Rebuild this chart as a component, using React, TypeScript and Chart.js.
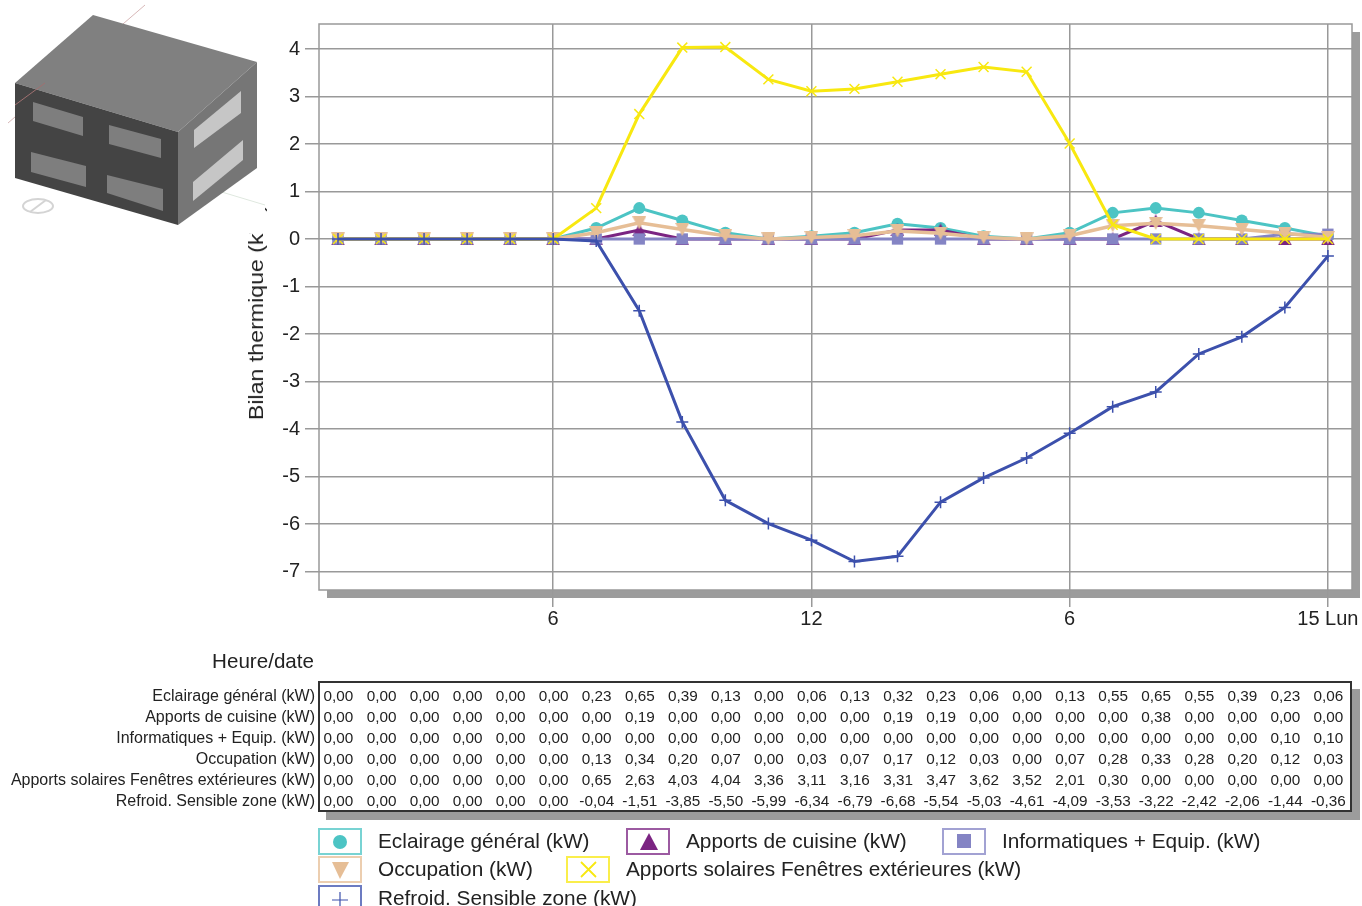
import React, { useEffect, useRef } from "react";
import { Chart, registerables } from "chart.js";

Chart.register(...registerables);

const eclairage = [0, 0, 0, 0, 0, 0, 0.23, 0.65, 0.39, 0.13, 0, 0.06, 0.13, 0.32, 0.23, 0.06, 0, 0.13, 0.55, 0.65, 0.55, 0.39, 0.23, 0.06];
const cuisine = [0, 0, 0, 0, 0, 0, 0, 0.19, 0, 0, 0, 0, 0, 0.19, 0.19, 0, 0, 0, 0, 0.38, 0, 0, 0, 0];
const informatique = [0, 0, 0, 0, 0, 0, 0, 0, 0, 0, 0, 0, 0, 0, 0, 0, 0, 0, 0, 0, 0, 0, 0.1, 0.1];
const occupation = [0, 0, 0, 0, 0, 0, 0.13, 0.34, 0.2, 0.07, 0, 0.03, 0.07, 0.17, 0.12, 0.03, 0, 0.07, 0.28, 0.33, 0.28, 0.2, 0.12, 0.03];
const solaire = [0, 0, 0, 0, 0, 0, 0.65, 2.63, 4.03, 4.04, 3.36, 3.11, 3.16, 3.31, 3.47, 3.62, 3.52, 2.01, 0.3, 0, 0, 0, 0, 0];
const refroid = [0, 0, 0, 0, 0, 0, -0.04, -1.51, -3.85, -5.5, -5.99, -6.34, -6.79, -6.68, -5.54, -5.03, -4.61, -4.09, -3.53, -3.22, -2.42, -2.06, -1.44, -0.36];

const seriesNames = [
  "Eclairage général (kW)",
  "Apports de cuisine (kW)",
  "Informatiques + Equip. (kW)",
  "Occupation (kW)",
  "Apports solaires Fenêtres extérieures (kW)",
  "Refroid. Sensible zone (kW)",
];
const seriesValues = [eclairage, cuisine, informatique, occupation, solaire, refroid];
const seriesColors = ["#4CC4C4", "#7B2482", "#8484C4", "#E6BE96", "#F8E810", "#3C50AC"];
const seriesWidths = [3, 3, 3, 3.5, 3, 3];
const seriesRadius = [6, 6, 8, 7, 7, 6];

const xTickPositions = [5, 11, 17, 23];
const xTickLabels = ["6", "12", "6", "15 Lun"];
const yTicks = [4, 3, 2, 1, 0, -1, -2, -3, -4, -5, -6, -7];
const yTitle = "Bilan thermique (kW)";
const xTitle = "Heure/date";

const FONT = '"Liberation Sans", Arial, sans-serif';
const GRID = "#999999";
const TEXT = "#222222";

function triangleMarker(color: string, w: number, h: number, down: boolean) {
  const c = document.createElement("canvas");
  c.width = w;
  c.height = h;
  const g = c.getContext("2d") as CanvasRenderingContext2D;
  g.fillStyle = color;
  g.beginPath();
  if (down) {
    g.moveTo(0, 0);
    g.lineTo(w, 0);
    g.lineTo(w / 2, h);
  } else {
    g.moveTo(w / 2, 0);
    g.lineTo(w, h);
    g.lineTo(0, h);
  }
  g.closePath();
  g.fill();
  return c;
}

const frame = {
  id: "frame",
  beforeDraw(chart: any) {
    const { ctx, chartArea: a } = chart;
    ctx.save();
    ctx.fillStyle = "#9c9c9c";
    ctx.fillRect(a.left + 8, a.bottom, a.right - a.left, 8);
    ctx.fillRect(a.right, a.top + 8, 8, a.bottom - a.top);
    ctx.restore();
  },
  beforeDatasetsDraw(chart: any) {
    const { ctx, chartArea: a } = chart;
    ctx.save();
    ctx.strokeStyle = GRID;
    ctx.lineWidth = 1.5;
    ctx.strokeRect(a.left, a.top, a.right - a.left, a.bottom - a.top);
    ctx.restore();
  },
};

const legendMarkers = [
  <circle cx="20" cy="12" r="7" fill={seriesColors[0]} />,
  <polygon points="21,3 30,20 12,20" fill={seriesColors[1]} />,
  <rect x="13" y="4" width="14" height="14" fill={seriesColors[2]} />,
  <polygon points="12,4 29,4 20,21" fill={seriesColors[3]} />,
  <path d="M13 4 L28 19 M28 4 L13 19" stroke={seriesColors[4]} strokeWidth="1.8" />,
  <path d="M20 5 V23 M12 13 H28" stroke={seriesColors[5]} strokeWidth="1.2" />,
];

const legendPlace = [
  { i: 0, x: 318, y: 828, tx: 378 },
  { i: 1, x: 626, y: 828, tx: 686 },
  { i: 2, x: 942, y: 828, tx: 1002 },
  { i: 3, x: 318, y: 856, tx: 378 },
  { i: 4, x: 566, y: 856, tx: 626 },
  { i: 5, x: 318, y: 885, tx: 378 },
];

function Building() {
  return (
    <svg width="265" height="233" style={{ position: "absolute", left: 0, top: 0, background: "#fff" }}>
      <path d="M145 5 L8 123" stroke="#d8b8b8" strokeWidth="1" />
      <path d="M15 130 L265 205" stroke="#dfe8df" strokeWidth="1" />
      <polygon points="93,15 257,62 178,132 15,83" fill="#808080" />
      <polygon points="15,83 178,132 178,225 15,178" fill="#444444" />
      <polygon points="178,132 257,62 257,168 178,225" fill="#767676" />
      <path d="M15 105 L45 83" stroke="#a07070" strokeWidth="1" />
      <polygon points="33,102 83,117 83,136 33,121" fill="#7e7e7e" />
      <polygon points="109,125 161,139 161,158 109,144" fill="#7e7e7e" />
      <polygon points="31,152 86,166 86,187 31,172" fill="#7e7e7e" />
      <polygon points="107,175 163,189 163,211 107,193" fill="#7e7e7e" />
      <polygon points="194,130 241,91 241,113 194,148" fill="#c6c6c6" />
      <polygon points="193,182 243,140 243,160 193,201" fill="#c6c6c6" />
      <ellipse cx="38" cy="206" rx="15" ry="7" fill="none" stroke="#d4d4d4" strokeWidth="2" />
      <path d="M30 212 L46 200" stroke="#d4d4d4" strokeWidth="2" />
    </svg>
  );
}

export default function App() {
  const ref = useRef<HTMLCanvasElement>(null);
  useEffect(() => {
    const markers: any[] = [
      "circle",
      triangleMarker(seriesColors[1], 14, 13, false),
      "rect",
      triangleMarker(seriesColors[3], 14, 13, true),
      "crossRot",
      "cross",
    ];
    const chart = new Chart(ref.current as HTMLCanvasElement, {
      type: "line",
      data: {
        datasets: seriesNames.map((label, i) => ({
          label,
          data: seriesValues[i].map((y, x) => ({ x, y })),
          borderColor: seriesColors[i],
          backgroundColor: seriesColors[i],
          borderWidth: seriesWidths[i],
          pointStyle: markers[i],
          pointRadius: seriesRadius[i],
          pointBorderColor: seriesColors[i],
          pointBackgroundColor: seriesColors[i],
          pointBorderWidth: i >= 4 ? 1.5 : 0,
          tension: 0,
          fill: false,
          order: 5 - i,
          clip: false,
        })),
      },
      options: {
        responsive: false,
        animation: false,
        parsing: false as any,
        normalized: true,
        layout: { autoPadding: false, padding: { left: 245, right: 10, top: 24, bottom: 266 } },
        plugins: { legend: { display: false }, tooltip: { enabled: false } },
        scales: {
          x: {
            type: "linear",
            min: -0.441,
            max: 23.56,
            afterFit: (s: any) => { s.height = 50; },
            afterBuildTicks: (s: any) => { s.ticks = xTickPositions.map((value) => ({ value })); },
            grid: { color: GRID, lineWidth: 1.5, tickLength: 17, tickColor: GRID },
            border: { display: false },
            ticks: {
              autoSkip: false,
              maxRotation: 0,
              minRotation: 0,
              padding: 0,
              color: TEXT,
              font: { family: FONT, size: 20 },
              callback: (v: any) => xTickLabels[xTickPositions.indexOf(v)],
            },
          },
          y: {
            type: "linear",
            min: -7.389,
            max: 4.526,
            afterFit: (s: any) => { s.width = 74; },
            afterBuildTicks: (s: any) => { s.ticks = yTicks.map((value) => ({ value })); },
            grid: { color: GRID, lineWidth: 1.5, tickLength: 14, tickColor: GRID },
            border: { display: false },
            ticks: {
              padding: 5,
              color: TEXT,
              font: { family: FONT, size: 20 },
              callback: (v: any) => String(v),
            },
          },
        },
      },
      plugins: [frame],
    } as any);
    return () => chart.destroy();
  }, []);

  return (
    <div style={{ position: "absolute", left: 0, top: 0, width: 1362, height: 906, overflow: "hidden", background: "#fff", fontFamily: FONT, color: TEXT }}>
      <canvas ref={ref} width={1362} height={906} style={{ position: "absolute", left: 0, top: 0, display: "block" }} />
      <div style={{ position: "absolute", left: 256, top: 312, fontSize: 20, lineHeight: "24px", whiteSpace: "nowrap", transform: "translate(-50%, -50%) rotate(-90deg) scaleX(1.158)" }}>{yTitle}</div>
      <Building />
      <div style={{ position: "absolute", right: 1362 - 314, top: 649, fontSize: 20.6, lineHeight: "24px" }}>{xTitle}</div>
      <div style={{ position: "absolute", left: 326, top: 689, width: 1034, height: 131, background: "#9c9c9c" }} />
      <div style={{ position: "absolute", left: 318, top: 681, width: 1034, height: 131, boxSizing: "border-box", border: "2px solid #333", background: "#fff" }} />
      {seriesNames.map((n, r) => (
        <React.Fragment key={n}>
          <div style={{ position: "absolute", right: 1362 - 315, top: 685 + r * 21, fontSize: 16, lineHeight: "21px", whiteSpace: "nowrap" }}>{n}</div>
          {seriesValues[r].map((v, c) => (
            <div key={c} style={{ position: "absolute", left: 338.5 + c * 43.04 - 25, width: 50, textAlign: "center", top: 685 + r * 21, fontSize: 15.3, lineHeight: "21px" }}>
              {v.toFixed(2).replace(".", ",")}
            </div>
          ))}
        </React.Fragment>
      ))}
      {legendPlace.map(({ i, x, y, tx }) => (
        <React.Fragment key={i}>
          <svg width="44" height="27" style={{ position: "absolute", left: x, top: y, boxSizing: "border-box", border: `2px solid ${seriesColors[i]}c0`, background: "#fff" }}>
            {legendMarkers[i]}
          </svg>
          <div style={{ position: "absolute", left: tx, top: y, fontSize: 20.8, lineHeight: "26px", whiteSpace: "nowrap" }}>{seriesNames[i]}</div>
        </React.Fragment>
      ))}
    </div>
  );
}
